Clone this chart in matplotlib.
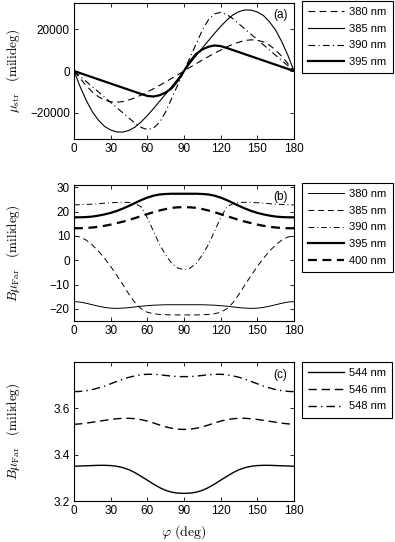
import numpy as np
import matplotlib
matplotlib.use("Agg")
import matplotlib.pyplot as plt

plt.rcParams['font.family'] = ['Liberation Sans', 'DejaVu Sans']
plt.rcParams['mathtext.fontset'] = 'cm'

# --- datos --- #
phi = [0, 5, 10, 15, 20, 25, 30, 35, 40, 45, 50, 55, 60, 65, 70, 75, 80, 85, 90,
       95, 100, 105, 110, 115, 120, 125, 130, 135, 140, 145, 150, 155, 160, 165, 170, 175, 180]

# (a) mu_str en milideg
str_380 = [0, -3500, -7000, -10000, -12300, -13900, -14700, -14900, -14600, -13800, -12800, -11500,
           -10000, -8500, -6900, -5200, -3500, -1800, 0,
           1800, 3500, 5200, 6900, 8500, 10000, 11500, 12800, 13800, 14600, 14900, 14700, 13900,
           12300, 10000, 7000, 3500, 0]
str_385 = [0, -7500, -14000, -19500, -23500, -26500, -28200, -29100, -29200, -28400, -26800, -24300,
           -21300, -18000, -14500, -11000, -7400, -3700, 0,
           3700, 7400, 11000, 14500, 18000, 21300, 24300, 26800, 28400, 29200, 29100, 28200, 26500,
           23500, 19500, 14000, 7500, 0]
str_390 = [0, -2500, -5000, -7500, -10000, -12500, -15000, -17500, -20000, -22500, -25000, -27000,
           -28000, -27300, -24500, -19500, -13000, -6500, 0,
           6500, 13000, 19500, 24500, 27300, 28000, 27000, 25000, 22500, 20000, 17500, 15000, 12500,
           10000, 7500, 5000, 2500, 0]
str_395 = [0, -1000, -2000, -3000, -4000, -5000, -6000, -7000, -8000, -9000, -10000, -11000,
           -11900, -12200, -11600, -10300, -8200, -4600, 0,
           4600, 8200, 10300, 11600, 12200, 11900, 11000, 10000, 9000, 8000, 7000, 6000, 5000,
           4000, 3000, 2000, 1000, 0]

# (b) B mu_Far en milideg
far_380 = [-17.0, -17.2, -17.7, -18.3, -18.9, -19.4, -19.7, -19.8, -19.7, -19.5, -19.2, -18.9,
           -18.7, -18.5, -18.4, -18.3, -18.3, -18.3, -18.3,
           -18.3, -18.3, -18.3, -18.4, -18.5, -18.7, -18.9, -19.2, -19.5, -19.7, -19.8, -19.7, -19.4,
           -18.9, -18.3, -17.7, -17.2, -17.0]
far_385 = [10.0, 9.6, 8.3, 6.3, 3.8, 0.8, -2.5, -6.2, -10.0, -14.0, -17.5, -20.0,
           -21.4, -22.0, -22.3, -22.4, -22.5, -22.5, -22.5,
           -22.5, -22.5, -22.4, -22.3, -22.0, -21.4, -20.0, -17.5, -14.0, -10.0, -6.2, -2.5, 0.8,
           3.8, 6.3, 8.3, 9.6, 10.0]
far_390 = [22.8, 22.9, 23.0, 23.1, 23.3, 23.5, 23.7, 23.8, 23.9, 23.8, 23.3, 22.0,
           17.5, 12.0, 6.5, 2.2, -1.3, -3.2, -3.9,
           -3.2, -1.3, 2.2, 6.5, 12.0, 17.5, 22.0, 23.3, 23.8, 23.9, 23.8, 23.7, 23.5,
           23.3, 23.1, 23.0, 22.9, 22.8]
far_395 = [17.7, 17.7, 17.8, 18.0, 18.4, 18.9, 19.5, 20.3, 21.3, 22.4, 23.6, 24.8,
           25.8, 26.6, 27.1, 27.3, 27.4, 27.4, 27.4,
           27.4, 27.4, 27.3, 27.1, 26.6, 25.8, 24.8, 23.6, 22.4, 21.3, 20.3, 19.5, 18.9,
           18.4, 18.0, 17.8, 17.7, 17.7]
far_400 = [13.2, 13.2, 13.3, 13.5, 13.8, 14.2, 14.7, 15.3, 15.9, 16.6, 17.4, 18.2,
           19.0, 19.8, 20.5, 21.1, 21.6, 21.8, 21.9,
           21.8, 21.6, 21.1, 20.5, 19.8, 19.0, 18.2, 17.4, 16.6, 15.9, 15.3, 14.7, 14.2,
           13.8, 13.5, 13.3, 13.2, 13.2]

# (c) B mu_Far en milideg
far_544 = [3.350, 3.351, 3.352, 3.353, 3.354, 3.354, 3.353, 3.350, 3.344, 3.335, 3.322, 3.306,
           3.290, 3.273, 3.258, 3.246, 3.238, 3.234, 3.233,
           3.234, 3.238, 3.246, 3.258, 3.273, 3.290, 3.306, 3.322, 3.335, 3.344, 3.350, 3.353, 3.354,
           3.354, 3.353, 3.352, 3.351, 3.350]
far_546 = [3.531, 3.533, 3.536, 3.540, 3.544, 3.548, 3.552, 3.555, 3.557, 3.557, 3.555, 3.551,
           3.545, 3.537, 3.528, 3.520, 3.514, 3.510, 3.509,
           3.510, 3.514, 3.520, 3.528, 3.537, 3.545, 3.551, 3.555, 3.557, 3.557, 3.555, 3.552, 3.548,
           3.544, 3.540, 3.536, 3.533, 3.531]
far_548 = [3.672, 3.673, 3.676, 3.681, 3.688, 3.696, 3.706, 3.716, 3.726, 3.734, 3.740, 3.745,
           3.747, 3.747, 3.745, 3.742, 3.739, 3.737, 3.737,
           3.737, 3.739, 3.742, 3.745, 3.747, 3.747, 3.745, 3.740, 3.734, 3.726, 3.716, 3.706, 3.696,
           3.688, 3.681, 3.676, 3.673, 3.672]

xticks = [0, 30, 60, 90, 120, 150, 180]

# --- estilos --- #
thin = 0.8
thick = 1.6
dash = (6, 4)
dashdot = (6, 3, 1, 3)

fig = plt.figure(figsize=(3.95, 5.42), dpi=100)
W, H = 395.0, 542.0
ax_a = fig.add_axes([74/W, 1-139/H, 220/W, 136/H])
ax_b = fig.add_axes([74/W, 1-321/H, 220/W, 136/H])
ax_c = fig.add_axes([74/W, 1-501/H, 220/W, 139/H])

# (a)
ax_a.plot(phi, str_380, color="black", lw=thin, dashes=dash, label="380 nm")
ax_a.plot(phi, str_385, color="black", lw=thin, label="385 nm")
ax_a.plot(phi, str_390, color="black", lw=thin, dashes=dashdot, label="390 nm")
ax_a.plot(phi, str_395, color="black", lw=thick, label="395 nm")
ax_a.set_ylim(-32500, 32500)
ax_a.set_yticks([-20000, 0, 20000])
ax_a.set_yticklabels(["\u221220000", "0", "20000"])
ax_a.set_ylabel(r"$\mu_{\rm str}\quad(\mathrm{milideg})$", fontsize=9.5)

# (b)
ax_b.plot(phi, far_380, color="black", lw=0.7, label="380 nm")
ax_b.plot(phi, far_385, color="black", lw=0.7, dashes=dash, label="385 nm")
ax_b.plot(phi, far_390, color="black", lw=0.7, dashes=dashdot, label="390 nm")
ax_b.plot(phi, far_395, color="black", lw=thick, label="395 nm")
ax_b.plot(phi, far_400, color="black", lw=thick, dashes=(4, 2.5), label="400 nm")
ax_b.set_ylim(-25, 31)
ax_b.set_yticks([-20, -10, 0, 10, 20, 30])
ax_b.set_yticklabels(["\u221220", "\u221210", "0", "10", "20", "30"])
ax_b.set_ylabel(r"$B\mu_{\rm Far}\quad(\mathrm{milideg})$", fontsize=9.5)

# (c)
ax_c.plot(phi, far_544, color="black", lw=1.0, label="544 nm")
ax_c.plot(phi, far_546, color="black", lw=1.0, dashes=(6, 3.5), label="546 nm")
ax_c.plot(phi, far_548, color="black", lw=1.0, dashes=(6, 3, 1, 3), label="548 nm")
ax_c.set_ylim(3.2, 3.8)
ax_c.set_yticks([3.2, 3.4, 3.6])
ax_c.set_ylabel(r"$B\mu_{\rm Far}\quad(\mathrm{milideg})$", fontsize=9.5)
ax_c.set_xlabel(r"$\varphi\ (\mathrm{deg})$", fontsize=10)

etiquetas = ["(a)", "(b)", "(c)"]
tops = [1, 183, 362]
for ax, et, t in zip([ax_a, ax_b, ax_c], etiquetas, tops):
    ax.set_xlim(0, 180)
    ax.set_xticks(xticks)
    ax.tick_params(direction="in", top=True, right=True, length=3, width=0.6,
                   labelsize=8.5, pad=3)
    for s in ax.spines.values():
        s.set_linewidth(0.8)
    ax.yaxis.set_label_coords(-0.235, 0.5)
    ax.text(0.97, 0.91, et, transform=ax.transAxes, ha="right", va="center", fontsize=8.5)
    leg = ax.legend(loc="upper left", bbox_to_anchor=(302/W, 1-t/H),
                    bbox_transform=fig.transFigure, borderaxespad=0, fontsize=8,
                    handlelength=3.2, handletextpad=0.5, labelspacing=0.6,
                    borderpad=0.55, fancybox=False, framealpha=1, edgecolor="black")
    leg.get_frame().set_linewidth(0.8)

fig.savefig("out.png", dpi=100)
